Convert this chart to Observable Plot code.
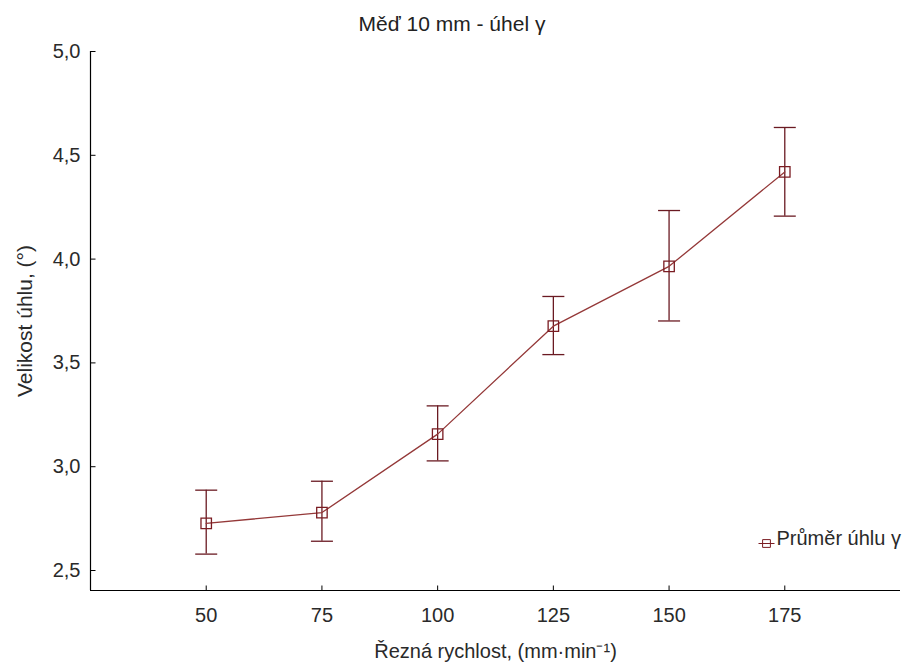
<!DOCTYPE html>
<html><head><meta charset="utf-8">
<script src="https://cdn.jsdelivr.net/npm/d3@7"></script>
<script src="https://cdn.jsdelivr.net/npm/@observablehq/plot@0.6"></script>
<style>
body{margin:0;background:#fff;}
#wrap{position:relative;width:904px;height:666px;font-family:"Liberation Sans",Arial,sans-serif;}
#title{position:absolute;top:13px;left:0;width:904px;text-align:center;font-size:21px;line-height:1;color:#222;font-family:"Liberation Sans",Arial,sans-serif;}
</style></head><body><div id="wrap"><div id="title"></div></div>
<script>
const speeds = [50, 75, 100, 125, 150, 175];
const means  = [2.727, 2.779, 3.157, 3.677, 3.965, 4.420];
const lower  = [2.579, 2.641, 3.028, 3.540, 3.702, 4.207];
const upper  = [2.887, 2.930, 3.293, 3.820, 4.234, 4.634];
const xTicks = [50, 75, 100, 125, 150, 175];
const yTicks = [2.5, 3.0, 3.5, 4.0, 4.5, 5.0];
const title = "Měď 10 mm - úhel γ";
const xLabel = "Řezná rychlost, (mm·min⁻¹)";
const yLabel = "Velikost úhlu, (°)";
const legendLabel = "Průměr úhlu γ";

document.getElementById("title").textContent = title;

const data = speeds.map((s, i) => ({x: s, m: means[i], lo: lower[i], hi: upper[i]}));
const xDomain = [25, 200];
const yDomain = [2.4037, 5.0];

const lineColor = "#943838";
const barColor = "#6a1a22";
const markColor = "#7a1c22";
const textColor = "#2a2a2a";

const capSym = {draw(ctx) { ctx.moveTo(-11, 0); ctx.lineTo(11, 0); }};
const tickUp = {draw(ctx) { ctx.moveTo(0, 0); ctx.lineTo(0, -5); }};
const tickRight = {draw(ctx) { ctx.moveTo(0, 0); ctx.lineTo(5, 0); }};
const legendLine = {draw(ctx) { ctx.moveTo(-8, 0); ctx.lineTo(8, 0); }};

const fmt = d => d.toFixed(1).replace(".", ",");

const chart = Plot.plot({
  width: 904,
  height: 666,
  marginLeft: 90,
  marginRight: 4,
  marginTop: 51,
  marginBottom: 76,
  style: {fontFamily: "'Liberation Sans', Arial, sans-serif", fontSize: "20px", color: textColor, background: "#fff"},
  x: {domain: xDomain},
  y: {domain: yDomain},
  marks: [
    Plot.axisX(xTicks, {label: null, tickSize: 0, tickPadding: 17, fontSize: 20, fill: textColor}),
    Plot.axisY(yTicks, {label: null, tickSize: 0, tickPadding: 10, tickFormat: fmt, fontSize: 20, fill: textColor}),
    Plot.dot(xTicks, {x: d => d, frameAnchor: "bottom", symbol: tickUp, stroke: "#000", strokeWidth: 1}),
    Plot.dot(yTicks, {y: d => d, frameAnchor: "left", symbol: tickRight, stroke: "#000", strokeWidth: 1}),
    Plot.ruleX([xDomain[0]], {y1: yDomain[0], y2: yDomain[1], stroke: "#000", strokeWidth: 1.2}),
    Plot.ruleY([yDomain[0]], {x1: xDomain[0], x2: xDomain[1], stroke: "#000", strokeWidth: 1.2}),
    Plot.ruleX(data, {x: "x", y1: "lo", y2: "hi", stroke: barColor, strokeWidth: 1.3}),
    Plot.dot(data, {x: "x", y: "lo", symbol: capSym, stroke: barColor, strokeWidth: 1.3}),
    Plot.dot(data, {x: "x", y: "hi", symbol: capSym, stroke: barColor, strokeWidth: 1.3}),
    Plot.line(data, {x: "x", y: "m", stroke: lineColor, strokeWidth: 1.3}),
    Plot.dot(data, {x: "x", y: "m", symbol: "square", r: 5.9, fill: "none", stroke: markColor, strokeWidth: 1.3}),
    Plot.dot([legendLabel], {frameAnchor: "bottom-right", dx: -134, dy: -47, symbol: "square", r: 4.4, fill: "#fff", stroke: markColor, strokeWidth: 1}),
    Plot.dot([legendLabel], {frameAnchor: "bottom-right", dx: -134, dy: -47, symbol: legendLine, stroke: markColor, strokeWidth: 1}),
    Plot.text([legendLabel], {frameAnchor: "bottom-right", dx: -124, dy: -46, textAnchor: "start", fontSize: 20, fill: textColor}),
    Plot.text([xLabel], {frameAnchor: "bottom", dy: 67, textAnchor: "middle", fontSize: 20, fill: textColor}),
    Plot.text([yLabel], {frameAnchor: "left", dx: -65.5, rotate: -90, textAnchor: "middle", fontSize: 21, fill: textColor})
  ]
});
document.getElementById("wrap").appendChild(chart);
</script>
</body></html>
